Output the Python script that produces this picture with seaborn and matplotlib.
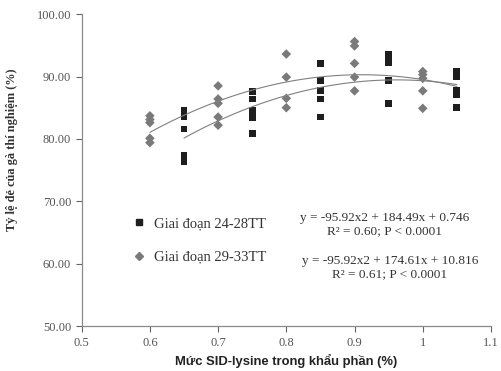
import numpy as np
import pandas as pd
import seaborn as sns
import matplotlib
matplotlib.use("Agg")
import matplotlib.pyplot as plt
from matplotlib.lines import Line2D

# ---- data ----
s1_x = [0.65]*5 + [0.75]*5 + [0.85]*5 + [0.95]*5 + [1.05]*5
s1_y = [84.5, 83.5, 81.6, 77.3, 76.3,
        87.6, 86.4, 84.5, 83.4, 80.9,
        92.1, 89.3, 87.8, 86.4, 83.5,
        93.5, 92.8, 92.2, 89.3, 85.7,
        90.8, 90.0, 87.8, 87.1, 85.0]
s2_x = [0.6]*5 + [0.7]*5 + [0.8]*4 + [0.9]*5 + [1.0]*5
s2_y = [83.7, 83.1, 82.6, 80.1, 79.4,
        88.5, 86.4, 85.7, 83.5, 82.2,
        93.6, 89.9, 86.5, 85.0,
        95.6, 94.9, 92.1, 89.9, 87.7,
        90.8, 90.3, 89.7, 87.7, 84.9]
series_names = ["Giai đoạn 24-28TT", "Giai đoạn 29-33TT"]
# trend-line coefficients (a, b, c) and x-range, as printed on the chart
coef1 = [-95.92, 184.49, 0.746]
coef2 = [-95.92, 174.61, 10.816]
range1 = [0.65, 1.05]
range2 = [0.60, 1.05]
eq_texts = ["y = -95.92x2 + 184.49x + 0.746\nR² = 0.60; P < 0.0001",
            "y = -95.92x2 + 174.61x + 10.816\nR² = 0.61; P < 0.0001"]
xticks = [0.5, 0.6, 0.7, 0.8, 0.9, 1.0, 1.1]
xticklabels = ["0.5", "0.6", "0.7", "0.8", "0.9", "1", "1.1"]
yticks = [50, 60, 70, 80, 90, 100]
yticklabels = ["50.00", "60.00", "70.00", "80.00", "90.00", "100.00"]

df = pd.DataFrame({
    "x": s1_x + s2_x,
    "y": s1_y + s2_y,
    "series": [series_names[0]]*len(s1_x) + [series_names[1]]*len(s2_x),
})

sns.set_theme(style="white")
plt.rcParams["font.family"] = ["Liberation Serif", "DejaVu Serif"]

fig = plt.figure(figsize=(5.01, 3.71), dpi=100)
ax = fig.add_axes([0.163, 0.121, 0.817, 0.841])

c1 = "#1e1e1e"
c2 = "#7a7a7a"
sns.scatterplot(data=df, x="x", y="y", hue="series", style="series",
                palette={series_names[0]: c1, series_names[1]: c2},
                markers={series_names[0]: "s", series_names[1]: "D"},
                s=24, linewidth=0, ax=ax, legend=False)

for coef, rng in [(coef1, range1), (coef2, range2)]:
    xs = np.linspace(rng[0], rng[1], 100)
    ys = np.polyval(coef, xs)
    sns.lineplot(x=xs, y=ys, color="#808080", linewidth=0.8, ax=ax)

ax.set_xlim(0.5, 1.1)
ax.set_ylim(50, 100)
ax.set_xticks(xticks)
ax.set_xticklabels(xticklabels)
ax.set_yticks(yticks)
ax.set_yticklabels(yticklabels)
ax.tick_params(axis="both", labelsize=9, colors="#666666", length=4,
               width=0.8, direction="out", left=True, bottom=True)
for lbl in ax.get_xticklabels() + ax.get_yticklabels():
    lbl.set_color("#555555")
for side in ["top", "right"]:
    ax.spines[side].set_visible(False)
for side in ["left", "bottom"]:
    ax.spines[side].set_color("#8a8a8a")
    ax.spines[side].set_linewidth(0.9)

ax.set_xlabel("Mức SID-lysine trong khẩu phần (%)", fontsize=9.4,
              fontweight="bold", color="#222222", labelpad=4,
              family=["Liberation Sans", "DejaVu Sans"])
ax.set_ylabel("Tỷ lệ đẻ của gà thí nghiệm (%)", fontsize=8.9,
              fontweight="bold", color="#333333", labelpad=9)
ax.yaxis.set_label_coords(-0.155, 0.564)

handles = [Line2D([], [], marker="s", color=c1, linestyle="none", markersize=5),
           Line2D([], [], marker="D", color=c2, linestyle="none", markersize=4.5)]
ax.legend(handles, series_names, frameon=False, loc="upper left",
          bbox_to_anchor=(0.087, 0.392), labelspacing=1.4, handletextpad=0.45,
          handlelength=1.2, prop={"size": 10.5}, labelcolor="#333333")

ax.text(0.944, 66.3, eq_texts[0], ha="center", va="center", fontsize=9.5,
        color="#333333", linespacing=1.15)
ax.text(0.952, 59.4, eq_texts[1], ha="center", va="center", fontsize=9.5,
        color="#333333", linespacing=1.15)

fig.savefig("out.png", dpi=100)
